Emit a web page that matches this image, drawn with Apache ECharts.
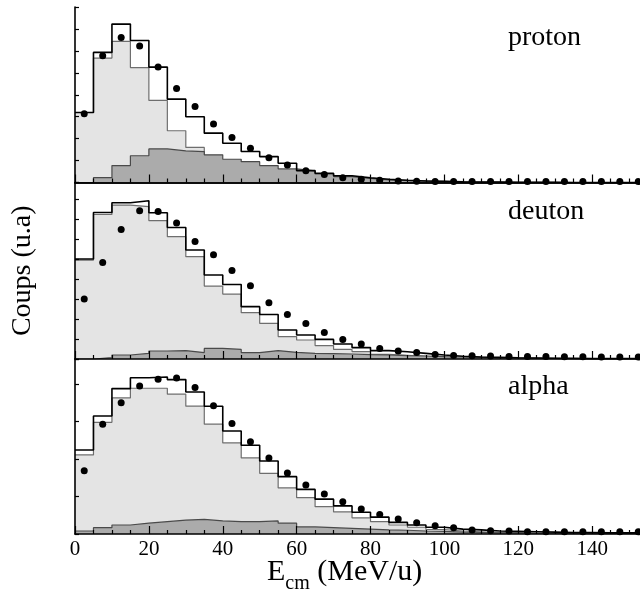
<!DOCTYPE html>
<html><head><meta charset="utf-8">
<script src="https://cdn.jsdelivr.net/npm/echarts@6/dist/echarts.min.js"></script>
<style>html,body{margin:0;padding:0;background:#fff}#c{width:640px;height:599px}</style>
</head><body><div id="c"></div>
<script>
// bin left edges (MeV/u) and bin centres for the data points
const binLeft = [0,5,10,15,20,25,30,35,40,45,50,55,60,65,70,75,80,85,90,95,100,105,110,115,120,125,130,135,140,145,150];
const binCenter = [2.5,7.5,12.5,17.5,22.5,27.5,32.5,37.5,42.5,47.5,52.5,57.5,62.5,67.5,72.5,77.5,82.5,87.5,92.5,97.5,102.5,107.5,112.5,117.5,122.5,127.5,132.5,137.5,142.5,147.5,152.5];
const panelNames = ['proton','deuton','alpha'];
const xTickValues = [0,20,40,60,80,100,120,140];

// proton
const protonTotal = [3.19,5.93,7.22,6.47,5.26,3.80,3.00,2.25,1.79,1.41,1.18,0.88,0.54,0.42,0.31,0.22,0.15,0.10,0.07,0.05,0.03,0.02,0.02,0.01,0.01,0.01,0,0,0,0,0];
const protonLight = [3.19,5.67,6.43,5.24,3.74,2.36,1.60,0.99,0.73,0.46,0.41,0.26,0.06,0.04,0.03,0.03,0.02,0.01,0.01,0.01,0,0,0,0,0,0,0,0,0,0,0];
const protonDark  = [0,0.22,0.77,1.22,1.53,1.44,1.41,1.26,1.06,0.95,0.77,0.62,0.53,0.39,0.27,0.19,0.12,0.09,0.07,0.05,0.03,0.02,0.02,0.01,0.01,0.01,0,0,0,0,0];
const protonData  = [3.13,5.78,6.61,6.22,5.26,4.28,3.46,2.67,2.05,1.56,1.13,0.80,0.54,0.36,0.22,0.15,0.10,0.07,0.06,0.05,0.05,0.05,0.04,0.04,0.04,0.04,0.04,0.04,0.04,0.04,0.04];

// deuton
const deutonTotal = [5.00,7.33,7.82,7.92,7.32,6.58,5.45,4.20,3.73,2.62,2.23,1.45,1.20,0.98,0.75,0.57,0.42,0.36,0.28,0.20,0.14,0.10,0.08,0.06,0.05,0.04,0.03,0.02,0.02,0.02,0.02];
const deutonLight = [4.95,7.23,7.70,7.62,6.92,6.12,5.12,3.65,3.25,2.32,1.78,1.12,0.95,0.67,0.48,0.37,0.23,0.18,0.13,0.08,0.05,0.04,0.03,0.02,0.02,0.01,0.01,0.01,0,0,0];
const deutonDark  = [0,0.07,0.20,0.28,0.40,0.42,0.32,0.53,0.48,0.32,0.42,0.33,0.28,0.27,0.25,0.22,0.20,0.17,0.15,0.12,0.10,0.08,0.06,0.05,0.04,0.03,0.02,0.01,0.01,0.01,0.01];
const deutonData  = [3.00,4.83,6.48,7.42,7.38,6.80,5.88,5.22,4.43,3.67,2.82,2.23,1.78,1.33,0.98,0.75,0.53,0.40,0.32,0.23,0.18,0.16,0.15,0.13,0.12,0.12,0.11,0.11,0.10,0.10,0.10];

// alpha
const alphaTotal = [2.24,3.15,3.88,4.17,4.19,4.12,3.79,3.41,2.75,2.37,1.95,1.53,1.19,0.93,0.75,0.58,0.45,0.31,0.24,0.18,0.13,0.11,0.08,0.07,0.06,0.05,0.04,0.04,0.03,0.03,0.03];
const alphaLight = [2.11,2.98,3.63,3.89,3.89,3.73,3.41,2.93,2.43,2.03,1.62,1.23,0.97,0.73,0.59,0.43,0.33,0.24,0.18,0.12,0.08,0.06,0.04,0.03,0.02,0.02,0.01,0.01,0.01,0.01,0.01];
const alphaDark  = [0.08,0.17,0.24,0.29,0.33,0.37,0.39,0.35,0.33,0.33,0.35,0.29,0.19,0.17,0.15,0.13,0.11,0.10,0.08,0.07,0.05,0.04,0.03,0.03,0.02,0.02,0.01,0.01,0.01,0.01,0.01];
const alphaData  = [1.69,2.93,3.50,3.95,4.13,4.16,3.91,3.42,2.95,2.46,2.03,1.63,1.31,1.07,0.86,0.67,0.52,0.40,0.30,0.22,0.17,0.11,0.09,0.08,0.06,0.06,0.06,0.06,0.06,0.06,0.06];

const panels = [
  {total: protonTotal, light: protonLight, dark: protonDark, pts: protonData, yMax: 8.0},
  {total: deutonTotal, light: deutonLight, dark: deutonDark, pts: deutonData, yMax: 8.83},
  {total: alphaTotal, light: alphaLight, dark: alphaDark, pts: alphaData, yMax: 4.67}
];
const FONT = "'Liberation Serif','DejaVu Serif',serif";
const gridLayout = [{top:7,height:175.5},{top:182.5,height:176.5},{top:359,height:175}];

function stepData(vals){
  const d = binLeft.map((x,i)=>[x, vals[i]]);
  d.push([binLeft[binLeft.length-1]+5, vals[vals.length-1]]);
  return d;
}

const grid=[], xAxis=[], yAxis=[], series=[], title=[];
panels.forEach((p,i)=>{
  grid.push({left:75, width:591, top:gridLayout[i].top, height:gridLayout[i].height,
    outerBoundsMode:'none', containLabel:false});
  xAxis.push({
    type:'value', gridIndex:i, min:0, max:160, interval:20, z:10,
    axisLine:{show:true, onZero:false, lineStyle:{color:'#000', width:1.6}},
    axisTick:{show:true, inside:true, length:8, lineStyle:{color:'#000', width:1.2}},
    minorTick:{show:true, splitNumber:4, length:4, lineStyle:{color:'#000', width:1.2}},
    splitLine:{show:false}, minorSplitLine:{show:false},
    axisLabel:{show:i===2, color:'#000', fontFamily:FONT, fontSize:21, margin:5,
      formatter:v=> xTickValues.indexOf(v)>=0 ? String(v) : ''}
  });
  yAxis.push({
    type:'value', gridIndex:i, min:0, max:p.yMax, interval:1, z:10,
    axisLine:{show:true, lineStyle:{color:'#000', width:1.6}},
    axisTick:{show:true, inside:true, length:4, lineStyle:{color:'#000', width:1.2}},
    axisLabel:{show:false}, splitLine:{show:false},
    name: i===1 ? 'Coups (u.a)' : '', nameLocation:'middle', nameRotate:90, nameGap:38,
    nameTextStyle:{color:'#000', fontFamily:FONT, fontSize:28}
  });
  series.push({type:'line', xAxisIndex:i, yAxisIndex:i, step:'end', symbol:'none', data:stepData(p.light),
    lineStyle:{color:'#6e6e6e', width:1.2}, areaStyle:{color:'#e4e4e4', opacity:1}, z:1});
  series.push({type:'line', xAxisIndex:i, yAxisIndex:i, step:'end', symbol:'none', data:stepData(p.dark),
    lineStyle:{color:'#4a4a4a', width:1.2}, areaStyle:{color:'#ababab', opacity:1}, z:2});
  series.push({type:'line', xAxisIndex:i, yAxisIndex:i, step:'end', symbol:'none', data:stepData(p.total),
    lineStyle:{color:'#000', width:1.6}, z:3});
  series.push({type:'scatter', xAxisIndex:i, yAxisIndex:i, symbol:'circle', symbolSize:7,
    data:binCenter.map((x,k)=>[x,p.pts[k]]), itemStyle:{color:'#000', opacity:1}, z:12});
});
// top frame line of upper panel
xAxis.push({type:'value', gridIndex:0, position:'top', min:0, max:160, z:10,
  axisLine:{show:true, lineStyle:{color:'#000', width:1.6}}, axisTick:{show:false},
  axisLabel:{show:false}, splitLine:{show:false}});

const labelTops = [24, 198, 373];
panelNames.forEach((n,i)=>{
  title.push({text:n, left:508, top:labelTops[i], padding:0,
    textStyle:{color:'#000', fontFamily:FONT, fontSize:28, fontWeight:'normal'}});
});
title.push({text:'{a|E}{b|cm}{a| (MeV/u)}', left:267, top:557, padding:0,
  textStyle:{fontWeight:'normal', rich:{
    a:{color:'#000', fontFamily:FONT, fontSize:30, fontWeight:'normal', lineHeight:30, verticalAlign:'top'},
    b:{color:'#000', fontFamily:FONT, fontSize:20, fontWeight:'normal', lineHeight:20, verticalAlign:'top', padding:[17,0,0,0]}
  }}});

const chart = echarts.init(document.getElementById('c'), null, {renderer:'canvas'});
chart.setOption({animation:false, backgroundColor:'#fff', grid, xAxis, yAxis, series, title});
</script></body></html>
